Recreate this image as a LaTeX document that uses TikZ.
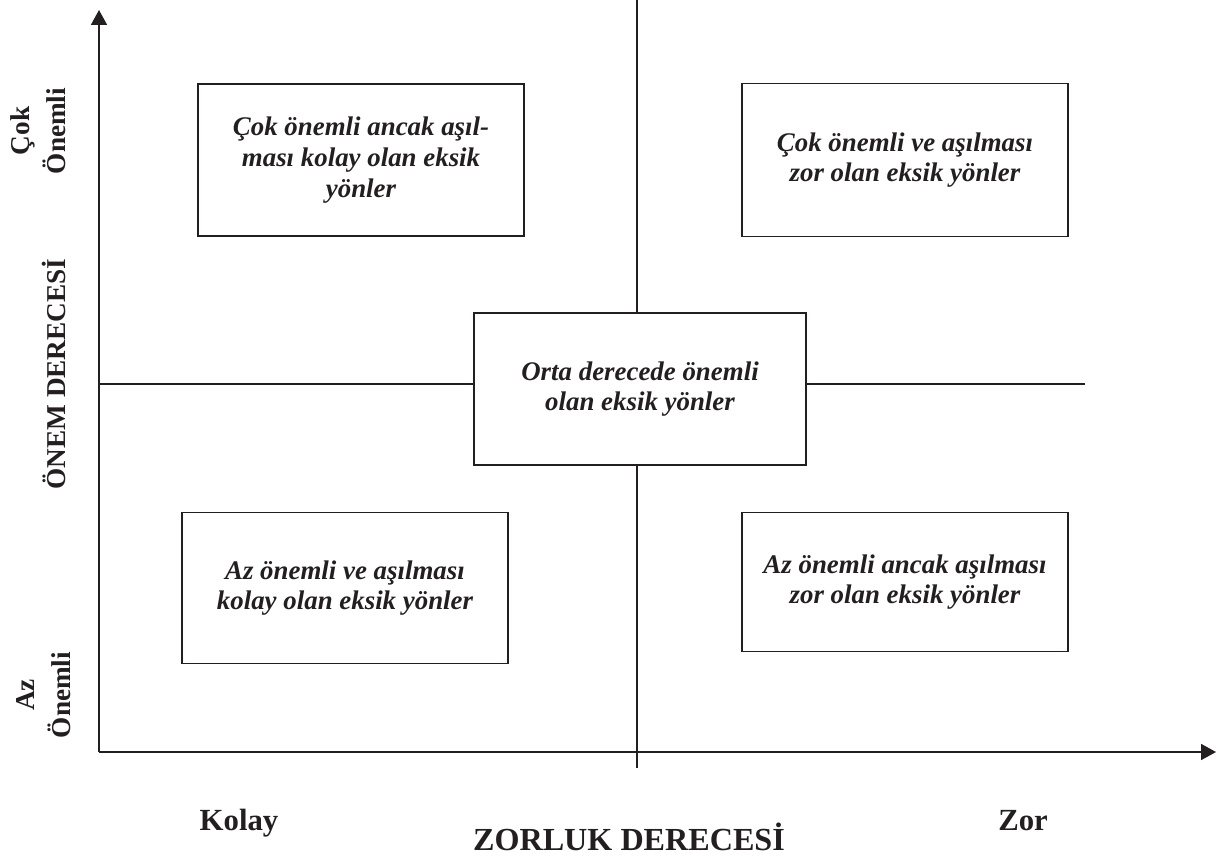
\documentclass[tikz,border=0pt]{standalone}
\usepackage{fontspec}
\setmainfont{Liberation Serif}
\usetikzlibrary{arrows.meta}
\definecolor{ink}{HTML}{231F20}
\tikzset{
  kutu/.style={draw=ink, line width=0.9pt, align=center, inner sep=0pt, text=ink,
    font=\fontsize{15.3}{17.5}\selectfont\bfseries\itshape},
  eksen/.style={draw=ink, line width=1pt, -{Triangle[length=0.3cm,width=0.32cm]}},
  cizgi/.style={draw=ink, line width=0.9pt},
  etiket/.style={text=ink, inner sep=0pt, anchor=base, font=\fontsize{17.5}{20}\selectfont\bfseries},
  yetiket/.style={etiket, rotate=90, align=center, font=\fontsize{15.5}{20}\selectfont\bfseries}
}
\begin{document}
\begin{tikzpicture}[x=0.02cm, y=-0.02cm]

  \useasboundingbox (0,0) rectangle (1219,855);

	%axes
 \coordinate (O) at (99,752);
 \coordinate (ytop) at (99,10);
 \coordinate (xend) at (1216,752);
    \draw[eksen] (O) -- (ytop);
    \draw[eksen] (O) -- (xend);

	%boxes
    \foreach \cx/\cy/\w/\h/\name/\txt in {
        361/160/326/152/tl/{Çok önemli ancak aşıl-\\ması kolay olan eksik\\yönler},
        905/160/326/153/tr/{Çok önemli ve aşılması\\zor olan eksik yönler},
        640/389/332/152/mid/{Orta derecede önemli\\olan eksik yönler},
        345/588/326/151/bl/{Az önemli ve aşılması\\kolay olan eksik yönler},
        905/582/326/139/br/{Az önemli ancak aşılması\\zor olan eksik yönler}}{
         \node[kutu, minimum width={\w*0.02cm}, minimum height={\h*0.02cm}] (\name) at (\cx,\cy) {\txt};
    }

	%dividers
 \coordinate (vt) at (637,0);
 \coordinate (vb) at (637,768);
 \coordinate (hl) at (99,384);
 \coordinate (hr) at (1085,384);
    \draw[cizgi] (vt) -- (vt |- mid.north);
    \draw[cizgi] (vb) -- (vb |- mid.south);
    \draw[cizgi] (hl) -- (hl -| mid.west);
    \draw[cizgi] (hr) -- (hr -| mid.east);

	%labels
    \node[etiket] (kolay) at (239,830) {Kolay};
    \node[etiket] (zor) at (1023,830) {Zor};
    \node[etiket, font=\fontsize{18.3}{20}\selectfont\bfseries] (zorluk) at (629,850) {ZORLUK DERECESİ};
    \node[yetiket] (onem) at (65,374) {ÖNEM DERECESİ};
    \node[yetiket] (cok) at (65,131) {Çok\\Önemli};
    \node[yetiket] (az) at (70,695) {Az\\Önemli};

\end{tikzpicture}
\end{document}
